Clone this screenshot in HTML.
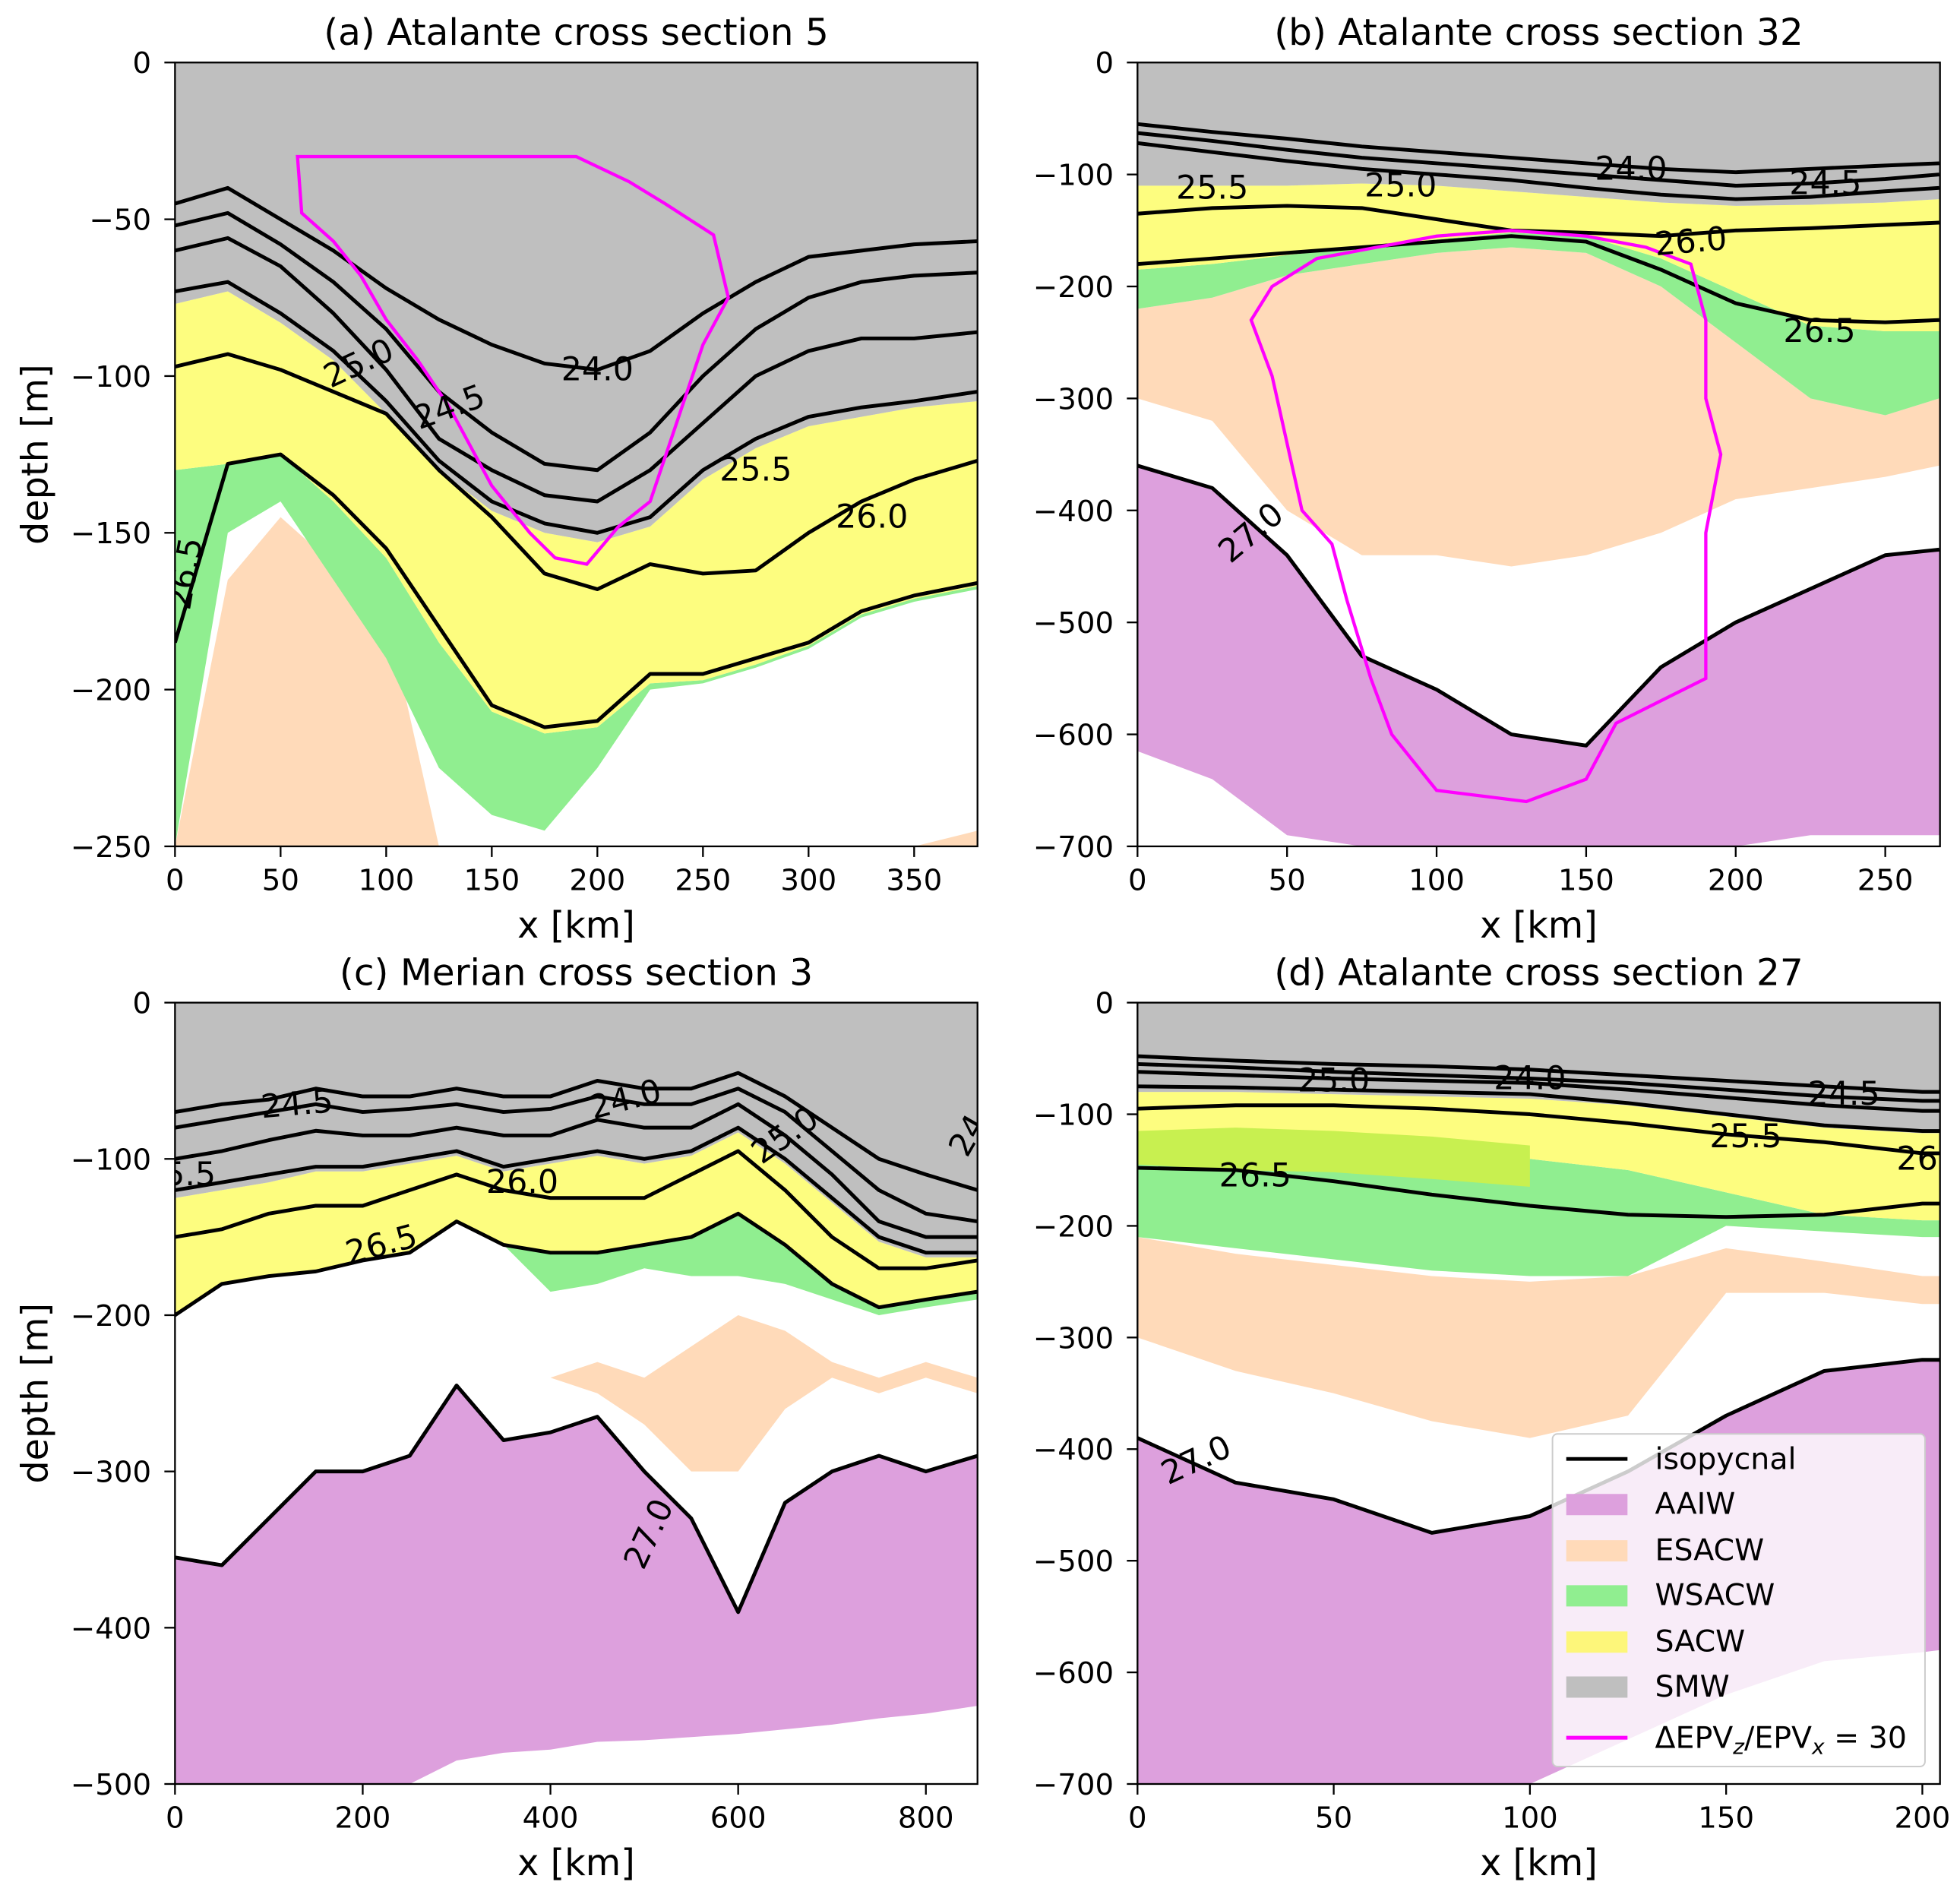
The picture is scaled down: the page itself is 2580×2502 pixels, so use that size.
<!DOCTYPE html>
<html><head><meta charset="utf-8">
<style>
html,body{margin:0;padding:0;background:#fff;}
svg{display:block;font-family:"DejaVu Sans","Liberation Sans",sans-serif;}
</style></head>
<body>
<svg id="chart" width="2580" height="2502" viewBox="0 0 1568 1520.6" preserveAspectRatio="none" xmlns="http://www.w3.org/2000/svg"></svg>
<script>
// ---------- DATA ----------
// Panel (a)
const aX=[0,25,50,75,100,125,150,175,200,225,250,275,300,325,350,380];
const aIso240=[-45,-40,-50,-60,-72,-82,-90,-96,-98,-92,-80,-70,-62,-60,-58,-57];
const aIso245=[-52,-48,-58,-70,-85,-105,-118,-128,-130,-118,-100,-85,-75,-70,-68,-67];
const aIso250=[-60,-56,-65,-80,-98,-120,-130,-138,-140,-130,-115,-100,-92,-88,-88,-86];
const aIso255=[-73,-70,-80,-92,-108,-127,-140,-147,-150,-145,-130,-120,-113,-110,-108,-105];
const aIso260=[-97,-93,-98,-105,-112,-130,-145,-163,-168,-160,-163,-162,-150,-140,-133,-127];
const aIso265=[-185,-128,-125,-138,-155,-180,-205,-212,-210,-195,-195,-190,-185,-175,-170,-166];
const aGrayBot=[-77,-73,-83,-95,-112,-130,-143,-150,-153,-148,-133,-123,-116,-113,-110,-108];
const aYelBot=[-130,-128,-125,-140,-158,-185,-207,-214,-212,-198,-197,-192,-186,-176,-171,-167];
const aGrnBot=[-250,-150,-140,-165,-190,-225,-240,-245,-225,-200,-198,-193,-187,-177,-172,-168];
const aPchTop=[-250,-165,-145,-160,-175,-250,-250,-250,-250,-250,-250,-250,-250,-250,-250,-245];
const aMag=[[58,-30],[100,-30],[140,-30],[175,-30],[190,-30],[215,-38],[232,-45],[255,-55],[262,-75],[250,-90],[240,-110],[225,-140],[210,-148],[195,-160],[180,-158],[168,-150],[150,-135],[130,-110],[115,-95],[100,-82],[88,-68],[75,-57],[60,-48]];
// Panel (b)
const bX=[0,25,50,75,100,125,150,175,200,225,250,268];
const bIso240=[-55,-62,-68,-75,-80,-85,-90,-95,-98,-95,-92,-90];
const bIso245=[-63,-70,-78,-85,-90,-95,-100,-105,-110,-108,-104,-100];
const bIso250=[-72,-80,-88,-95,-100,-105,-112,-118,-122,-120,-115,-112];
const bIso260=[-135,-130,-128,-130,-140,-150,-152,-155,-150,-148,-145,-143];
const bIso265=[-180,-175,-170,-165,-160,-155,-160,-185,-215,-230,-232,-230];
const bIso270=[-360,-380,-440,-530,-560,-600,-610,-540,-500,-470,-440,-435];
const bGrayBot=[-110,-110,-110,-108,-110,-115,-120,-125,-128,-127,-125,-122];
const bYelBot=[-185,-180,-172,-165,-158,-152,-155,-175,-205,-235,-240,-240];
const bGrnBot=[-220,-210,-190,-180,-170,-165,-170,-200,-250,-300,-315,-300];
const bPchBot=[-300,-320,-400,-440,-440,-450,-440,-420,-390,-380,-370,-360];
const bAaiwBot=[-615,-640,-690,-700,-700,-700,-700,-700,-700,-690,-690,-690];
const bMag=[[38,-230],[45,-200],[60,-175],[80,-165],[100,-155],[125,-150],[150,-155],[170,-165],[185,-180],[190,-230],[190,-300],[195,-350],[190,-420],[190,-550],[175,-570],[160,-590],[150,-640],[130,-660],[100,-650],[85,-600],[78,-550],[70,-480],[65,-430],[55,-400],[50,-340],[45,-280]];
// Panel (c)
const cX=[0,50,100,150,200,250,300,350,400,450,500,550,600,650,700,750,800,855];
const cIso240=[-70,-65,-62,-55,-60,-60,-55,-60,-60,-50,-55,-55,-45,-60,-80,-100,-110,-120];
const cIso245=[-80,-75,-70,-65,-70,-68,-65,-70,-68,-60,-65,-65,-55,-70,-95,-120,-135,-140];
const cIso250=[-100,-95,-88,-82,-85,-85,-80,-85,-85,-75,-80,-80,-65,-85,-110,-140,-150,-150];
const cIso255=[-120,-115,-110,-105,-105,-100,-95,-105,-100,-95,-100,-95,-80,-100,-125,-150,-160,-160];
const cIso260=[-150,-145,-135,-130,-130,-120,-110,-120,-125,-125,-125,-110,-95,-120,-150,-170,-170,-165];
const cIso265=[-200,-180,-175,-172,-165,-160,-140,-155,-160,-160,-155,-150,-135,-155,-180,-195,-190,-185];
const cIso270=[-355,-360,-330,-300,-300,-290,-245,-280,-275,-265,-300,-330,-390,-320,-300,-290,-300,-290];
const cGrayBot=[-125,-120,-115,-108,-108,-103,-98,-108,-103,-98,-103,-98,-83,-103,-128,-153,-163,-163];
const cGrnBot=[-200,-180,-175,-172,-165,-160,-140,-155,-185,-180,-170,-175,-175,-180,-190,-200,-195,-190];
const cPchTop=[-240,-240,-240,-240,-240,-240,-240,-240,-240,-230,-240,-220,-200,-210,-230,-240,-230,-240];
const cPchBot=[-240,-240,-240,-240,-240,-240,-240,-240,-240,-250,-270,-300,-300,-260,-240,-250,-240,-250];
const cAaiwBot=[-500,-500,-500,-500,-500,-500,-485,-480,-478,-473,-472,-470,-468,-465,-462,-458,-455,-450];
// Panel (d)
const dX=[0,25,50,75,100,125,150,175,200,204.5];
const dIso240=[-48,-52,-55,-57,-60,-65,-70,-75,-80,-80];
const dIso245=[-55,-58,-62,-65,-68,-72,-78,-84,-88,-88];
const dIso250=[-62,-65,-68,-70,-72,-78,-85,-92,-97,-97];
const dIso255=[-75,-76,-78,-80,-82,-90,-100,-110,-115,-115];
const dIso260=[-95,-92,-92,-95,-100,-108,-118,-125,-135,-135];
const dIso265=[-148,-150,-160,-172,-182,-190,-192,-190,-180,-180];
const dIso270=[-390,-430,-445,-475,-460,-420,-370,-330,-320,-320];
const dGrayBot=[-80,-80,-82,-84,-86,-92,-102,-112,-117,-117];
const dYelBot=[-130,-128,-130,-135,-140,-150,-170,-190,-195,-195];
const dGrnBot=[-210,-220,-230,-240,-245,-245,-200,-205,-210,-210];
const dPchTop=[-210,-225,-235,-245,-250,-245,-220,-232,-245,-245];
const dPchBot=[-300,-330,-350,-375,-390,-370,-260,-260,-270,-270];
const dAaiwBot=[-700,-700,-700,-700,-700,-660,-620,-590,-582,-580];
// ---------- RENDER ----------
const NS="http://www.w3.org/2000/svg";
const svg=document.getElementById('chart');
function el(tag,attrs,parent,text){const e=document.createElementNS(NS,tag);for(const k in attrs)e.setAttribute(k,attrs[k]);if(text!==undefined)e.textContent=text;(parent||svg).appendChild(e);return e;}
const C={gray:'#bfbfbf',yel:'#fdfd7f',grn:'#90ee90',pch:'#ffdab9',pur:'#dda0dd',mag:'#ff00ff',chart:'#c8f050'};
function makePanel(name,L,T,R,B,xmax,ymin){
  const g=el('g',{});
  
  
  const clip='clip-'+name;
  const cp=el('clipPath',{id:clip},g);el('rect',{x:L,y:T,width:R-L,height:B-T},cp);
  const inner=el('g',{'clip-path':'url(#'+clip+')'},g);
  return {g,inner,L,T,R,B,sx:x=>L+(R-L)*x/xmax,sy:d=>T+(B-T)*d/ymin};
}
function band(p,xs,top,bot,color,name){
  let pts=xs.map((x,i)=>p.sx(x)+','+p.sy(top[i]));
  for(let i=xs.length-1;i>=0;i--)pts.push(p.sx(xs[i])+','+p.sy(bot[i]));
  const e=el('polygon',{points:pts.join(' '),fill:color},p.inner);
  
  
}
function iso(p,xs,ds,name){
  const e=el('polyline',{points:xs.map((x,i)=>p.sx(x)+','+p.sy(ds[i])).join(' '),fill:'none',stroke:'#000','stroke-width':3,'stroke-linejoin':'round'},p.inner);
  
  
}
function mag(p,pts,name){
  const e=el('polygon',{points:pts.map(q=>p.sx(q[0])+','+p.sy(q[1])).join(' '),fill:'none',stroke:C.mag,'stroke-width':2.6},p.inner);
  
  
}
function label(p,x,d,txt,rot){
  const e=el('text',{x:p.sx(x),y:p.sy(d),'font-size':26,'text-anchor':'middle','dominant-baseline':'central',transform:'rotate('+(rot||0)+' '+p.sx(x)+' '+p.sy(d)+')'},p.inner,txt);
  
  
}
function axes(p,xt,yt,title,ylab){
  const fr=el('rect',{x:p.L,y:p.T,width:p.R-p.L,height:p.B-p.T,fill:'none',stroke:'#000','stroke-width':1.4},p.g);
  
  
  xt.forEach(v=>{const x=p.sx(v);el('line',{x1:x,x2:x,y1:p.B,y2:p.B+8.5,stroke:'#000','stroke-width':1.4},p.g);
    const t=el('text',{x:x,y:p.B+35,'font-size':23.5,'text-anchor':'middle'},p.g,String(v));
    
    });
  yt.forEach(v=>{const y=p.sy(v);el('line',{x1:p.L-8.5,x2:p.L,y1:y,y2:y,stroke:'#000','stroke-width':1.4},p.g);
    const t=el('text',{x:p.L-19,y:y+8.5,'font-size':23.5,'text-anchor':'end'},p.g,v===0?'0':'\u2212'+Math.abs(v));
    
    });
  const ti=el('text',{x:(p.L+p.R)/2,y:p.T-14,'font-size':29.5,'text-anchor':'middle'},p.g,title);
  
  
  const xl=el('text',{x:(p.L+p.R)/2,y:p.B+73,'font-size':29,'text-anchor':'middle'},p.g,'x [km]');
  
  
  if(ylab){const yl=el('text',{x:0,y:0,'font-size':29,'text-anchor':'middle',transform:'translate('+(p.L-102)+','+((p.T+p.B)/2)+') rotate(-90)'},p.g,'depth [m]');
    
    }
}
const zeros=n=>new Array(n).fill(0);
const fill=(n,v)=>new Array(n).fill(v);
// Panel a
let p=makePanel('panel-a',140,50,782,677,380,-250);
band(p,aX,aPchTop,fill(aX.length,-250),C.pch,'esacw-region');
band(p,aX,aYelBot,aGrnBot,C.grn,'wsacw-region');
band(p,aX,aGrayBot,aYelBot,C.yel,'sacw-region');
band(p,aX,zeros(aX.length),aGrayBot,C.gray,'smw-region');
[aIso240,aIso245,aIso250,aIso255,aIso260,aIso265].forEach((a,i)=>iso(p,aX,a,'isopycnal-a-'+i));
mag(p,aMag,'epv-contour-a');
label(p,200,-98,'24.0',0);label(p,130,-110,'24.5',-20);label(p,87,-96,'25.0',-25);label(p,275,-130,'25.5',0);label(p,330,-145,'26.0',0);label(p,5,-163,'26.5',-80);
axes(p,[0,50,100,150,200,250,300,350],[0,-50,-100,-150,-200,-250],'(a) Atalante cross section 5',true);
// Panel b
p=makePanel('panel-b',910,50,1552,677,268.3,-700);
band(p,bX,bIso270,bAaiwBot,C.pur,'aaiw-region');
band(p,bX,bGrnBot,bPchBot,C.pch,'esacw-region');
band(p,bX,bYelBot,bGrnBot,C.grn,'wsacw-region');
band(p,bX,bGrayBot,bYelBot,C.yel,'sacw-region');
band(p,bX,zeros(bX.length),bGrayBot,C.gray,'smw-region');
[bIso240,bIso245,bIso250,bIso260,bIso265,bIso270].forEach((a,i)=>iso(p,bX,a,'isopycnal-b-'+i));
mag(p,bMag,'epv-contour-b');
label(p,165,-95,'24.0',0);label(p,230,-108,'24.5',0);label(p,88,-110,'25.0',0);label(p,25,-112,'25.5',0);label(p,185,-160,'26.0',-5);label(p,228,-240,'26.5',0);label(p,38,-420,'27.0',-40);
axes(p,[0,50,100,150,200,250],[0,-100,-200,-300,-400,-500,-600,-700],'(b) Atalante cross section 32',false);
// Panel c
p=makePanel('panel-c',140,802,782,1427,855,-500);
band(p,cX,cIso270,cAaiwBot,C.pur,'aaiw-region');
band(p,cX,cPchTop,cPchBot,C.pch,'esacw-region');
band(p,cX,cIso265,cGrnBot,C.grn,'wsacw-region');
band(p,cX,cGrayBot,cIso265,C.yel,'sacw-region');
band(p,cX,zeros(cX.length),cGrayBot,C.gray,'smw-region');
[cIso240,cIso245,cIso250,cIso255,cIso260,cIso265,cIso270].forEach((a,i)=>iso(p,cX,a,'isopycnal-c-'+i));
label(p,480,-62,'24.0',-15);label(p,130,-65,'24.5',-5);label(p,650,-85,'25.0',-35);label(p,5,-110,'25.5',0);label(p,370,-115,'26.0',0);label(p,220,-155,'26.5',-15);label(p,505,-340,'27.0',-65);label(p,845,-85,'24',-60);
axes(p,[0,200,400,600,800],[0,-100,-200,-300,-400,-500],'(c) Merian cross section 3',true);
// Panel d
p=makePanel('panel-d',910,802,1552,1427,204.5,-700);
band(p,dX,dIso270,dAaiwBot,C.pur,'aaiw-region');
band(p,dX,dPchTop,dPchBot,C.pch,'esacw-region');
band(p,dX,dYelBot,dGrnBot,C.grn,'wsacw-region');
band(p,dX,dGrayBot,dYelBot,C.yel,'sacw-region');
band(p,[0,25,50,75,100],[-115,-112,-115,-120,-128],[-145,-150,-152,-158,-165],C.chart,'mixed-region');
band(p,dX,zeros(dX.length),dGrayBot,C.gray,'smw-region');
[dIso240,dIso245,dIso250,dIso255,dIso260,dIso265,dIso270].forEach((a,i)=>iso(p,dX,a,'isopycnal-d-'+i));
label(p,100,-68,'24.0',0);label(p,180,-82,'24.5',0);label(p,50,-70,'25.0',0);label(p,155,-120,'25.5',0);label(p,200,-140,'26.',0);label(p,30,-155,'26.5',0);label(p,15,-410,'27.0',-25);
axes(p,[0,50,100,150,200],[0,-100,-200,-300,-400,-500,-600,-700],'(d) Atalante cross section 27',false);
// Legend
const lg=el('g',{});


el('rect',{x:1242,y:1147,width:298,height:266,rx:4,fill:'#fff','fill-opacity':0.8,stroke:'#cccccc','stroke-width':1.2},lg);
const legItems=[['isopycnal','line','#000'],['AAIW','patch',C.pur],['ESACW','patch',C.pch],['WSACW','patch',C.grn],['SACW','patch','#fdf67a'],['SMW','patch',C.gray],['','line',C.mag]];
const rowsY=[1167,1203,1240,1276,1313,1349,1390];
legItems.forEach((it,i)=>{
  const y=rowsY[i];
  if(it[1]==='line')el('line',{x1:1253,x2:1302,y1:y,y2:y,stroke:it[2],'stroke-width':3},lg);
  else el('rect',{x:1253,y:y-8,width:49,height:17,fill:it[2]},lg);
  const t=el('text',{x:1324,y:y+8,'font-size':24},lg,it[0]);
  
  
  if(i===6){t.textContent='';
    el('tspan',{},t,'\u0394EPV');el('tspan',{'font-size':17,dy:5,'font-style':'italic'},t,'z');
    el('tspan',{dy:-5},t,'/EPV');el('tspan',{'font-size':17,dy:5,'font-style':'italic'},t,'x');
    el('tspan',{dy:-5},t,' = 30');}
});
</script>
</body></html>
